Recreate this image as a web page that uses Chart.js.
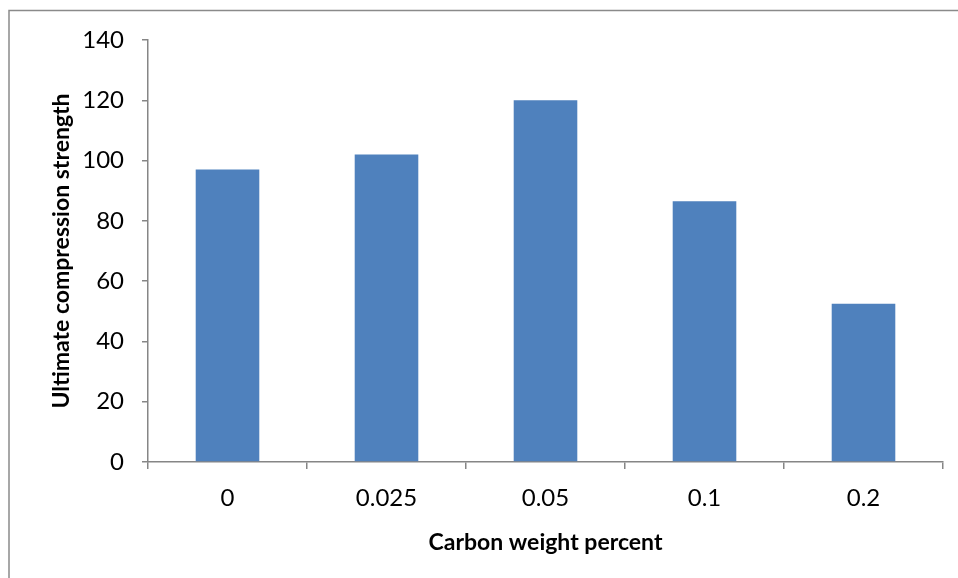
<!DOCTYPE html>
<html>
<head>
<meta charset="utf-8">
<script src="https://cdn.jsdelivr.net/npm/chart.js@4"></script>
<style>
  body { margin: 0; background: #fff; }
  #wrap { width: 958px; height: 578px; }
</style>
</head>
<body>
<div id="wrap"><canvas id="myChart" width="958" height="578"></canvas></div>
<script>
// data
var carbonWeight = ["0", "0.025", "0.05", "0.1", "0.2"];
var strength = [97, 102, 120, 86.5, 52.5];
var yTicks = [0, 20, 40, 60, 80, 100, 120, 140];

var fontName = "Lato, 'Open Sans', sans-serif";
var axisGray = "#868686";

// outer frame of the chart (only the left and top edges are inside the picture)
var framePlugin = {
    id: "frame",
    beforeDraw: function(chart){
        var ctx = chart.ctx;
        ctx.save();
        ctx.fillStyle = "#fff";
        ctx.fillRect(0, 0, chart.width, chart.height);
        ctx.strokeStyle = "#8a8a8a";
        ctx.lineWidth = 1.5;
        ctx.beginPath();
        ctx.moveTo(9, chart.height);
        ctx.lineTo(9, 10.5);
        ctx.lineTo(chart.width, 10.5);
        ctx.stroke();
        ctx.restore();
    }
};

var ctx = document.getElementById('myChart').getContext('2d');
var chart = new Chart(ctx, {
    type: 'bar',
    data: {
        labels: carbonWeight,
        datasets: [{
            label: "Ultimate compression strength",
            data: strength,
            backgroundColor: "#4F81BD",
            borderWidth: 0,
            categoryPercentage: 1,
            barPercentage: 0.4
        }]
    },
    options: {
        responsive: false,
        animation: false,
        layout: { padding: { left: 0, right: 15, top: 40, bottom: 0 } },
        plugins: {
            legend: { display: false },
            tooltip: { enabled: false }
        },
        scales: {
            x: {
                grid: {
                    drawOnChartArea: false,
                    drawTicks: true,
                    tickLength: 7,
                    color: axisGray,
                    lineWidth: 1.5
                },
                border: { color: axisGray, width: 1.5 },
                ticks: {
                    color: "#000",
                    padding: 15,
                    font: { family: fontName, size: 24 }
                },
                title: {
                    display: true,
                    text: "Carbon weight percent",
                    color: "#000",
                    padding: { top: 0, bottom: 22 },
                    font: { family: fontName, size: 23, weight: "bold" }
                },
                afterFit: function(scale){ scale.height = 116; }
            },
            y: {
                min: 0,
                max: 140,
                afterBuildTicks: function(scale){
                    scale.ticks = yTicks.map(function(v){ return { value: v }; });
                },
                grid: {
                    drawOnChartArea: false,
                    drawTicks: true,
                    tickLength: 6,
                    color: axisGray,
                    lineWidth: 1.5
                },
                border: { color: axisGray, width: 1.5 },
                ticks: {
                    color: "#000",
                    padding: 18,
                    font: { family: fontName, size: 24 }
                },
                title: {
                    display: true,
                    text: "Ultimate compression strength",
                    color: "#000",
                    padding: { top: 48, bottom: 0 },
                    font: { family: fontName, size: 23, weight: "bold" }
                },
                afterFit: function(scale){ scale.width = 148; }
            }
        }
    },
    plugins: [framePlugin]
});
</script>
</body>
</html>
